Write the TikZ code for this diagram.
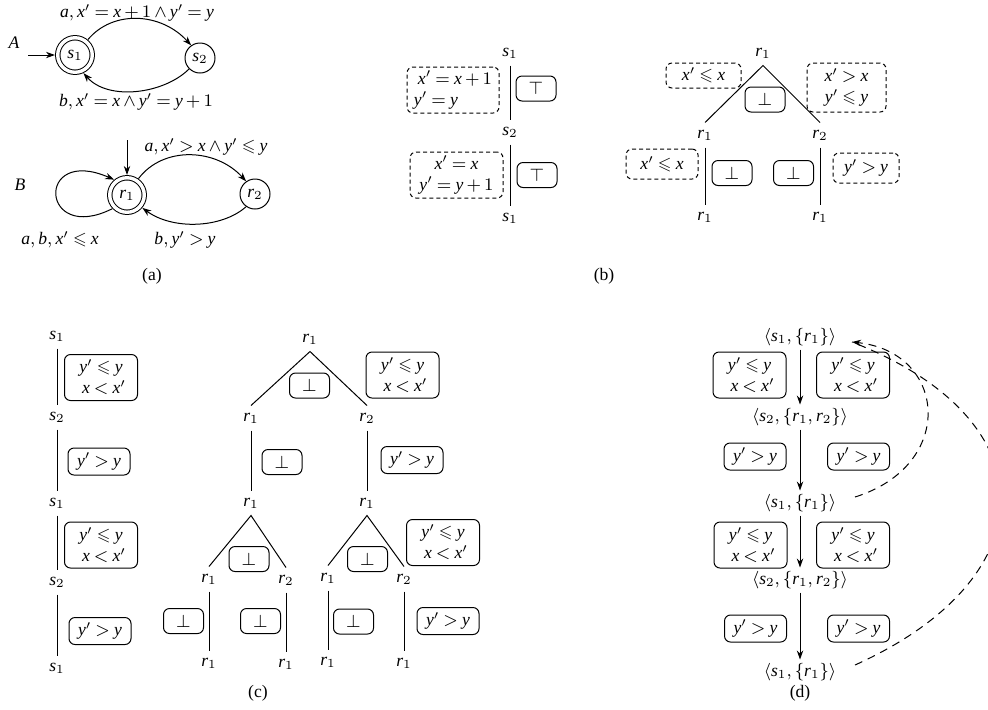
\RequirePackage{fix-cm}
\documentclass[tikz,border=0pt]{standalone}
\usepackage{amssymb}
\usepackage{fontspec}
\setmainfont{Liberation Serif}
\DeclareSymbolFont{tlet}{TU}{\rmdefault}{m}{it}
\DeclareMathSymbol{a}{\mathalpha}{tlet}{`a}
\DeclareMathSymbol{b}{\mathalpha}{tlet}{`b}
\DeclareMathSymbol{r}{\mathalpha}{tlet}{`r}
\DeclareMathSymbol{s}{\mathalpha}{tlet}{`s}
\DeclareMathSymbol{x}{\mathalpha}{tlet}{`x}
\DeclareMathSymbol{y}{\mathalpha}{tlet}{`y}
\thickmuskip=4mu plus 2mu
\medmuskip=3mu plus 1mu
\usetikzlibrary{arrows.meta}
\begin{document}
\begin{tikzpicture}[x=0.5pt,y=-0.5pt,line width=0.5pt,
  every node/.style={font=\fontsize{8.8}{10.5}\selectfont},
  arr/.style={-{Stealth[length=4.5pt,width=3.2pt]}},
  st/.style={circle,draw,minimum size=15pt,inner sep=0pt},
  accst/.style={circle,draw,double,double distance=1.7pt,minimum size=17.25pt,inner sep=0pt,outer sep=1.4pt},
  lbl/.style={inner sep=0pt,minimum height=12pt},
  rb/.style={draw,rounded corners=3pt,inner sep=0pt,align=center},
  db/.style={rb,dash pattern=on 2pt off 1.5pt},
  bot/.style={rb,minimum width=20pt,minimum height=12.5pt},
  two/.style={rb,minimum width=36.5pt,minimum height=23pt},
  gt/.style={rb,minimum width=31pt,minimum height=13.5pt},
  dc/.style={dash pattern=on 4pt off 3pt}
]
\useasboundingbox (0,0) rectangle (988,709);

% ---------------- (a) ----------------
\node (lA) at (14,43) {\textit{A}};
\node[accst] (s1) at (75,55) {$s_1$};
\node[st] (s2) at (200,58) {$s_2$};
\coordinate (ainit) at (28,55);
\draw[arr] (ainit) -- (s1);
\draw[arr] (s1.50) .. controls +(25,-30) and +(-30,-33) .. (s2.125);
\node (la1) at (137,13) {$a,x'=x+1\wedge y'=y$};
\draw[arr] (s2.225) .. controls +(-25,25) and +(25,28) .. (s1.-65);
\node (la2) at (136,102) {$b,x'=x\wedge y'=y+1$};

\node (lB) at (20,185) {\textit{B}};
\node[accst] (r1) at (127,195) {$r_1$};
\node[st] (r2) at (255,194) {$r_2$};
\coordinate (binit) at (127,140);
\draw[arr] (binit) -- (r1);
\draw[arr] (r1.223) .. controls (40,245) and (35,145) .. (r1.130);
\node (lb0) at (60,240) {$a,b,x'\leqslant x$};
\draw[arr] (r1.55) .. controls +(25,-33) and +(-30,-33) .. (r2.125);
\node (lb1) at (206,147) {$a,x'>x\wedge y'\leqslant y$};
\draw[arr] (r2.235) .. controls +(-25,22) and +(30,22) .. (r1.-40);
\node (lb2) at (185,240) {$b,y'>y$};
\node (capa) at (152,276) {(a)};

% ---------------- (b) ----------------
\node[lbl] (b1) at (510,53) {$s_1$};
\node[lbl] (b2) at (510,132) {$s_2$};
\node[lbl] (b3) at (510,218) {$s_1$};
\draw (b1.south) -- (b1.south |- b2.north);
\draw (b2.south) -- (b2.south |- b3.north);
\node[db,minimum width=46pt,minimum height=23pt,align=left] (bd1) at (453,90) {\hspace*{2pt}$x'=x+1$\\$y'=y$};
\node[db,minimum width=46.5pt,minimum height=23pt] (bd2) at (456.5,175) {$x'=x$\\$y'=y+1$};
\node[bot] (bt1) at (536,88.5) {$\top$};
\node[bot] (bt2) at (537,175) {$\top$};

\node[lbl] (t0) at (763,53) {$r_1$};
\node[lbl] (t1) at (705,135) {$r_1$};
\node[lbl] (t2) at (820,135) {$r_2$};
\node[lbl] (t3) at (705,217) {$r_1$};
\node[lbl] (t4) at (820,217) {$r_1$};
\draw (t1.north) -- (t0.south) -- (t2.north);
\draw (t1.south) -- (t1.south |- t3.north);
\draw (t2.south) -- (t2.south |- t4.north);
\node[db,minimum width=37.5pt,minimum height=12.5pt] (td1) at (703.5,75.5) {$x'\leqslant x$};
\node[db,minimum width=39.5pt,minimum height=24.5pt] (td2) at (846.5,87.5) {$x'>x$\\$y'\leqslant y$};
\node[db,minimum width=36pt,minimum height=15pt] (td3) at (662,164) {$x'\leqslant x$};
\node[db,minimum width=33pt,minimum height=15pt] (td4) at (866,168) {$y'>y$};
\node[bot] (tb1) at (765,99.5) {$\bot$};
\node[bot] (tb2) at (732,173) {$\bot$};
\node[bot] (tb3) at (793.5,173) {$\bot$};
\node (capb) at (604,276) {(b)};

% ---------------- (c) ----------------
\node[lbl] (p1) at (57,336) {$s_1$};
\node[lbl] (p2) at (57,417) {$s_2$};
\node[lbl] (p3) at (57,503) {$s_1$};
\node[lbl] (p4) at (57,582) {$s_2$};
\node[lbl] (p5) at (57,668) {$s_1$};
\draw (p1.south) -- (p1.south |- p2.north);
\draw (p2.south) -- (p2.south |- p3.north);
\draw (p3.south) -- (p3.south |- p4.north);
\draw (p4.south) -- (p4.south |- p5.north);
\node[two] (pb1) at (101,377.5) {$y'\leqslant y$\\\hspace*{3pt}$x<x'$};
\node[gt] (pb2) at (99,461.5) {$y'>y$};
\node[two] (pb3) at (101,545) {$y'\leqslant y$\\\hspace*{3pt}$x<x'$};
\node[gt] (pb4) at (100,631) {$y'>y$};

\node[lbl] (c0) at (310,339) {$r_1$};
\node[lbl] (c1) at (251,418) {$r_1$};
\node[lbl] (c2) at (367,418) {$r_2$};
\node[lbl] (c3) at (251,503) {$r_1$};
\node[lbl] (c4) at (367,503) {$r_1$};
\node[lbl] (c5) at (209,579) {$r_1$};
\node[lbl] (c6) at (286,580) {$r_2$};
\node[lbl] (c7) at (209,663) {$r_1$};
\node[lbl] (c8) at (286,664) {$r_1$};
\node[lbl] (c9) at (328,578) {$r_1$};
\node[lbl] (c10) at (404,579) {$r_2$};
\node[lbl] (c11) at (328,662) {$r_1$};
\node[lbl] (c12) at (404,663) {$r_1$};
\draw (c1.north) -- (c0.south) -- (c2.north);
\draw (c1.south) -- (c1.south |- c3.north);
\draw (c2.south) -- (c2.south |- c4.north);
\draw (c5.north) -- (c3.south) -- (c6.north);
\draw (c5.south) -- (c5.south |- c7.north);
\draw (c6.south) -- (c6.south |- c8.north);
\draw (c9.north) -- (c4.south) -- (c10.north);
\draw (c9.south) -- (c9.south |- c11.north);
\draw (c10.south) -- (c10.south |- c12.north);
\node[bot] (cb1) at (309.5,385.5) {$\bot$};
\node[two] (cb2) at (402.5,375) {$y'\leqslant y$\\\hspace*{3pt}$x<x'$};
\node[bot] (cb3) at (282,462) {$\bot$};
\node[gt] (cb4) at (412,460) {$y'>y$};
\node[bot] (cb5) at (249,559) {$\bot$};
\node[bot] (cb6) at (183.5,621) {$\bot$};
\node[bot] (cb7) at (260.5,621) {$\bot$};
\node[bot] (cb8) at (367.5,559) {$\bot$};
\node[two] (cb9) at (443,542.5) {$y'\leqslant y$\\\hspace*{3pt}$x<x'$};
\node[bot] (cb10) at (353.5,621.5) {$\bot$};
\node[gt] (cb11) at (448,621) {$y'>y$};
\node (capc) at (258,693) {(c)};

% ---------------- (d) ----------------
\node[lbl] (d1) at (800,337) {$\langle s_1,\{r_1\}\rangle$};
\node[lbl] (d2) at (800,417) {$\langle s_2,\{r_1,r_2\}\rangle$};
\node[lbl] (d3) at (800,503) {$\langle s_1,\{r_1\}\rangle$};
\node[lbl] (d4) at (800,580) {$\langle s_2,\{r_1,r_2\}\rangle$};
\node[lbl] (d5) at (800,672) {$\langle s_1,\{r_1\}\rangle$};
\draw[arr] (d1.south) -- (d1.south |- d2.north);
\draw[arr] (d2.south) -- (d2.south |- d3.north);
\draw[arr] (d3.south) -- (d3.south |- d4.north);
\draw[arr] (d4.south) -- (d4.south |- d5.north);
\node[two] (db1) at (749.5,375) {$y'\leqslant y$\\\hspace*{3pt}$x<x'$};
\node[two] (db2) at (853,375) {$y'\leqslant y$\\\hspace*{3pt}$x<x'$};
\node[gt] (db3) at (755,456.5) {$y'>y$};
\node[gt] (db4) at (858.5,456.5) {$y'>y$};
\node[two] (db5) at (750.5,545) {$y'\leqslant y$\\\hspace*{3pt}$x<x'$};
\node[two] (db6) at (853,545) {$y'\leqslant y$\\\hspace*{3pt}$x<x'$};
\node[gt] (db7) at (755.5,628.5) {$y'>y$};
\node[gt] (db8) at (858.5,628.5) {$y'>y$};
\coordinate (q1) at (855,497);
\coordinate (q2) at (855,665);
\coordinate (qt) at (852,342);
\draw[dc] (q2) .. controls (1048,578) and (1052,420) .. (qt);
\draw[dc,arr] (q1) .. controls (957,465) and (947,352) .. (qt);
\node (capd) at (800,693) {(d)};
\end{tikzpicture}
\end{document}
